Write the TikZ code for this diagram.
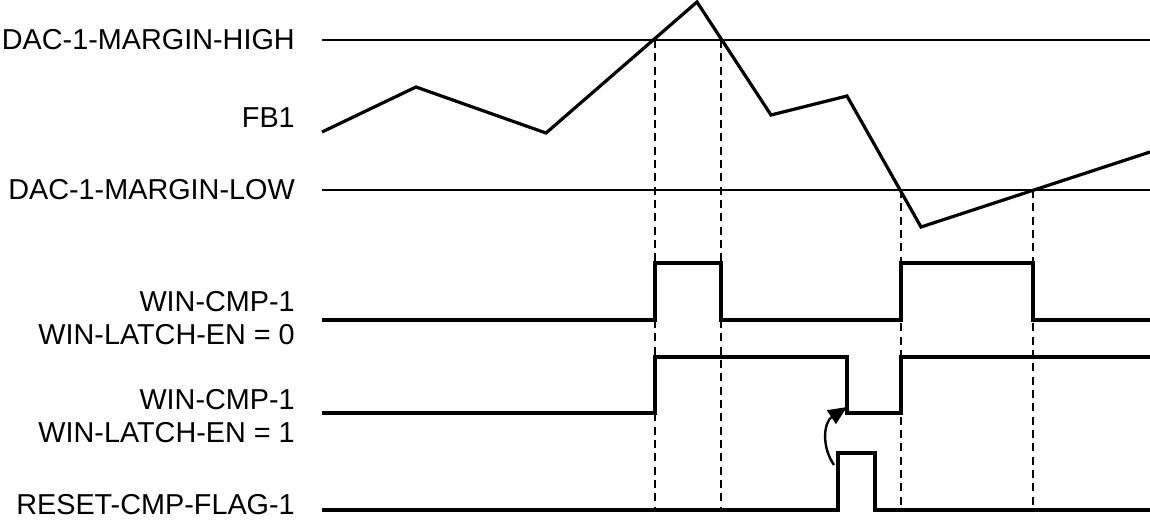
\documentclass[tikz,border=0pt]{standalone}
\usepackage{fontspec}
\setmainfont{Liberation Sans}
\usetikzlibrary{arrows.meta}

\begin{document}
\begin{tikzpicture}[x=0.75pt, y=-0.75pt, >={Triangle[length=14pt,width=12pt]},
  lbl/.style={anchor=east, align=right, inner sep=0pt,
    font=\fontsize{21.6}{24.8}\selectfont},
  sig/.style={line width=2.4pt, line join=miter},
  lvl/.style={line width=1pt},
  guide/.style={line width=1pt, dash pattern=on 6pt off 4pt}]
  \useasboundingbox (0,0) rectangle (1150,521);
  % labels on the left
  \node[lbl] (hi)   at (295,40)  {DAC-1-MARGIN-HIGH};
  \node[lbl] (fb)   at (295,118) {FB1};
  \node[lbl] (lo)   at (295,190) {DAC-1-MARGIN-LOW};
  \node[lbl] (cmpa) at (295,318) {WIN-CMP-1\\WIN-LATCH-EN = 0};
  \node[lbl] (cmpb) at (295,416) {WIN-CMP-1\\WIN-LATCH-EN = 1};
  \node[lbl] (rst)  at (295,505) {RESET-CMP-FLAG-1};
  % threshold levels
  \draw[lvl] (322,40) -- (1150,40);
  \draw[lvl] (322,190) -- (1150,190);
  % crossing markers
  \foreach \xx/\yy in {655/40, 721/40, 901/190, 1033/190}
    \draw[guide] (\xx,\yy) -- (\xx,512);
  % FB1 waveform
  \draw[sig] (322,132) -- (416,87) -- (546,133) -- (697,2) -- (771,115)
    -- (847,96) -- (921,227) -- (1150,152);
  % comparator, no latch
  \draw[sig] (322,320) -- (655,320) -- (655,263) -- (721,263) -- (721,320)
    -- (901,320) -- (901,263) -- (1033,263) -- (1033,320) -- (1150,320);
  % comparator, latched
  \draw[sig] (322,413) -- (655,413) -- (655,357) -- (847,357) -- (847,413)
    -- (901,413) -- (901,357) -- (1150,357);
  % reset flag pulse
  \draw[sig] (322,510) -- (838,510) -- (838,453) -- (875,453) -- (875,510)
    -- (1150,510);
  % reset clears the latch
  \coordinate (clrtail) at (834,465);
  \coordinate (clrhead) at (847,407);
  \draw[->, line width=1.8pt] (clrtail) .. controls (821,446) and (824,422) .. (clrhead);
\end{tikzpicture}
\end{document}
